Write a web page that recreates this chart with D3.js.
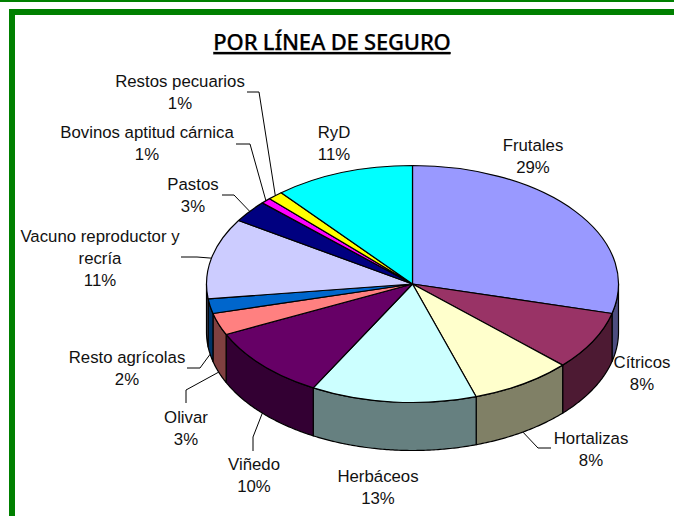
<!DOCTYPE html>
<html>
<head>
<meta charset="utf-8">
<script src="https://cdn.jsdelivr.net/npm/d3@7"></script>
<style>
  html, body { margin: 0; padding: 0; background: #fff; }
  svg { display: block; }
  text { font-family: "Liberation Sans", Arial, sans-serif; font-size: 16.8px; fill: #111; }
  .title { font-family: "Noto Sans", sans-serif; font-size: 22px; font-weight: 500; letter-spacing: -0.2px; fill: #000; stroke: #000; stroke-width: 0.25px; text-decoration: underline; }
</style>
</head>
<body>
<div id="chart"></div>
<script>
// chart data, clockwise from 12 o'clock
const CATEGORIES = ["Frutales", "Cítricos", "Hortalizas", "Herbáceos", "Viñedo", "Olivar",
  "Resto agrícolas", "Vacuno reproductor y recría", "Pastos", "Bovinos aptitud cárnica",
  "Restos pecuarios", "RyD"];
// the two small ones print as 1% after rounding
const VALUES = [29, 8, 8, 13, 10, 3, 2, 11, 3, 0.8, 1.2, 11];
const LABEL_LINES = [["Frutales"], ["Cítricos"], ["Hortalizas"], ["Herbáceos"], ["Viñedo"], ["Olivar"],
  ["Resto agrícolas"], ["Vacuno reproductor y", "recría"], ["Pastos"], ["Bovinos aptitud cárnica"],
  ["Restos pecuarios"], ["RyD"]];

// slice colours, top face and side wall
const TOP_COLORS = ["#9999ff", "#993366", "#ffffcc", "#ccffff", "#660066", "#ff8080",
  "#0066cc", "#ccccff", "#000080", "#ff00ff", "#ffff00", "#00ffff"];
const SIDE_COLORS = ["#4d4d80", "#4d1a33", "#808066", "#668080", "#330033", "#804040",
  "#003366", "#666680", "#000040", "#800080", "#808000", "#008080"];

// label layout: centre x and first baseline of each label
const LABEL_X = [533, 642, 591, 378, 254, 186, 127, 100, 193, 147, 180, 334];
const LABEL_Y = [151, 368, 444, 482, 470, 423, 363, 242, 190, 138, 87, 138];
// leader lines: start at the text, elbow, then run to the rim (null = no leader)
const LEADERS = [null, null,
  [[551, 448], [538, 448]], null,
  [[253, 451], [253, 437]],
  [[186, 403], [186, 390]],
  [[187, 368], [200, 368]],
  [[181, 257], [197, 257]],
  [[222, 195], [234, 195]],
  [[236, 144], [250, 144]],
  [[247, 92], [259, 92]], null];

const WIDTH = 674;
const HEIGHT = 516;
const CX = 412.5;
const CY = 284;
const RX = 206;
const RY = 118.5;
const DEPTH = 48;
const LINE_HEIGHT = 22;
const EDGE = 1.2;

const svg = d3.select("#chart").append("svg")
  .attr("width", WIDTH)
  .attr("height", HEIGHT);

// green frame
svg.append("rect").attr("x", 0).attr("y", 0).attr("width", WIDTH).attr("height", 2).attr("fill", "#008000");
svg.append("rect").attr("x", 9).attr("y", 9).attr("width", WIDTH - 9).attr("height", 6).attr("fill", "#008000");
svg.append("rect").attr("x", 9).attr("y", 9).attr("width", 6).attr("height", HEIGHT - 9).attr("fill", "#008000");

svg.append("text")
  .attr("class", "title")
  .attr("x", 332)
  .attr("y", 50)
  .attr("text-anchor", "middle")
  .text("POR LÍNEA DE SEGURO");

const slices = d3.pie().sort(null).value(d => d)(VALUES);

// point on the tilted ellipse, angle measured clockwise from 12 o'clock
const px = a => CX + RX * Math.sin(a);
const py = a => CY - RY * Math.cos(a);

const line = d3.line();

// side walls, only the front half of the ellipse shows
const FRONT_START = Math.PI / 2;
const FRONT_END = Math.PI * 1.5;
const walls = svg.append("g");
slices.forEach((s, i) => {
  const a0 = Math.max(s.startAngle, FRONT_START);
  const a1 = Math.min(s.endAngle, FRONT_END);
  if (a1 <= a0) return;
  const angles = d3.range(a0, a1, 0.01).concat([a1]);
  const top = angles.map(a => [px(a), py(a)]);
  const bottom = angles.map(a => [px(a), py(a) + DEPTH]).reverse();
  walls.append("path")
    .attr("d", line(top.concat(bottom)) + "Z")
    .attr("fill", SIDE_COLORS[i])
    .attr("stroke", "#000")
    .attr("stroke-width", EDGE)
    .attr("stroke-linejoin", "round");
});

// top face, a flat pie squashed into an ellipse
const arc = d3.arc().innerRadius(0).outerRadius(RX);
svg.append("g")
  .attr("transform", `translate(${CX},${CY}) scale(1,${RY / RX})`)
  .selectAll("path")
  .data(slices)
  .join("path")
  .attr("d", arc)
  .attr("fill", (d, i) => TOP_COLORS[i])
  .attr("stroke", "#000")
  .attr("stroke-width", EDGE)
  .attr("stroke-linejoin", "round")
  .attr("vector-effect", "non-scaling-stroke");

// leader lines run from the elbow to the middle of the slice's outer edge
slices.forEach((s, i) => {
  if (!LEADERS[i]) return;
  const mid = (s.startAngle + s.endAngle) / 2;
  const front = mid > FRONT_START && mid < FRONT_END;
  const rim = [px(mid), py(mid) + (front ? DEPTH : 0)];
  svg.append("path")
    .attr("d", line(LEADERS[i].concat([rim])))
    .attr("fill", "none")
    .attr("stroke", "#000")
    .attr("stroke-width", 1);
});

// labels: name lines, then the percentage
CATEGORIES.forEach((name, i) => {
  const rows = LABEL_LINES[i].concat([Math.round(VALUES[i]) + "%"]);
  svg.append("text")
    .attr("text-anchor", "middle")
    .selectAll("tspan")
    .data(rows)
    .join("tspan")
    .attr("x", LABEL_X[i])
    .attr("y", (d, j) => LABEL_Y[i] + j * LINE_HEIGHT)
    .text(d => d);
});
</script>
</body>
</html>
